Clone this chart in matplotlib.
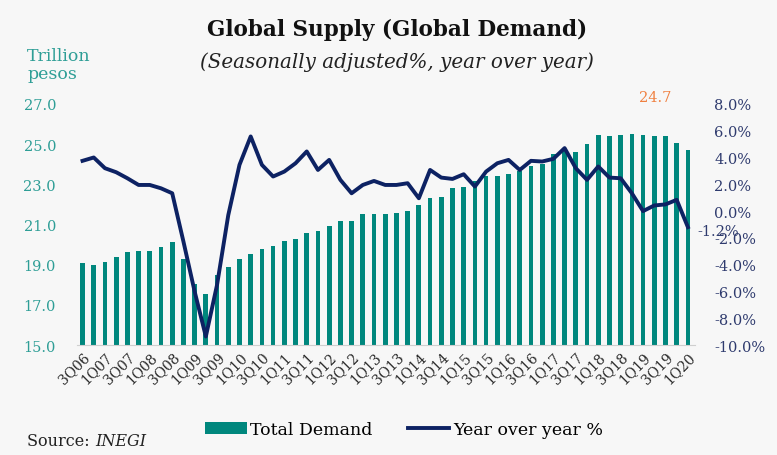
import numpy as np
import matplotlib
matplotlib.use("Agg")
import matplotlib.pyplot as plt
from matplotlib.patches import Patch
from matplotlib.lines import Line2D

# quarters 3Q06 .. 1Q20
quarters = ["3Q06", "4Q06"] + [f"{q}Q{y:02d}" for y in range(7, 20) for q in range(1, 5)] + ["1Q20"]

# total demand, trillion pesos (left axis)
total_demand = [19.06, 18.98, 19.13, 19.38, 19.61, 19.69, 19.69, 19.88, 20.11, 19.29,
                18.02, 17.54, 18.50, 18.90, 19.29, 19.54, 19.78, 19.94, 20.17, 20.26,
                20.60, 20.69, 20.94, 21.17, 21.17, 21.50, 21.50, 21.50, 21.55, 21.65,
                21.98, 22.30, 22.38, 22.80, 22.88, 23.17, 23.42, 23.42, 23.50, 23.67,
                23.92, 24.00, 24.50, 24.75, 24.59, 24.98, 25.46, 25.38, 25.45, 25.51,
                25.45, 25.38, 25.38, 25.05, 24.70]

# year over year %, right axis
yoy = [3.75, 4.00, 3.20, 2.90, 2.45, 1.95, 1.95, 1.70, 1.33, -2.27,
       -6.00, -9.36, -5.50, -0.30, 3.45, 5.57, 3.45, 2.58, 2.95, 3.57,
       4.45, 3.07, 3.82, 2.33, 1.33, 1.95, 2.25, 1.95, 1.95, 2.08,
       0.96, 3.07, 2.50, 2.40, 2.75, 1.83, 2.95, 3.57, 3.82, 3.07,
       3.75, 3.70, 3.90, 4.70, 3.20, 2.33, 3.33, 2.50, 2.45, 1.33,
       0.00, 0.42, 0.50, 0.84, -1.20]

left_ticks = [15, 17, 19, 21, 23, 25, 27]
right_ticks = [-10, -8, -6, -4, -2, 0, 2, 4, 6, 8]

bg = "#f7f7f7"
bar_col = "#00877d"
teal_txt = "#2e9e96"
line_col = "#0d2263"
navy_txt = "#2f3b6e"

plt.rcParams["font.family"] = ["DejaVu Serif"]

fig = plt.figure(figsize=(7.77, 4.56), dpi=100, facecolor=bg)
ax = fig.add_axes([0.099, 0.241, 0.795, 0.529], facecolor=bg)
ax2 = ax.twinx()

x = np.arange(len(quarters))
ax.bar(x, total_demand, width=0.42, color=bar_col, zorder=2)
ax2.plot(x, yoy, color=line_col, lw=2.8, zorder=3, solid_joinstyle="round")

ax.set_xlim(-0.5, len(quarters) - 0.4)
ax.set_ylim(15, 27)
ax2.set_ylim(-10, 8)

ax.set_yticks(left_ticks)
ax.set_yticklabels([f"{v:.1f}" for v in left_ticks], color=teal_txt, fontsize=10.5)
ax2.set_yticks(right_ticks)
ax2.set_yticklabels([f"{v:.1f}%" for v in right_ticks], color=navy_txt, fontsize=10.5)

ax.set_xticks(x[::2])
ax.set_xticklabels(quarters[::2], rotation=45, ha="right", rotation_mode="anchor",
                   fontsize=10, color="#2a2a2a")
ax.tick_params(axis="x", length=0, pad=3)
ax.tick_params(axis="y", length=0, pad=15)
ax2.tick_params(axis="y", length=0, pad=14)

for a in (ax, ax2):
    for s in a.spines.values():
        s.set_visible(False)
ax.spines["bottom"].set_visible(True)
ax.spines["bottom"].set_color("#cfcfcf")

# data labels
ax.text(x[-1] - 2.9, 27.35, f"{total_demand[-1]:.1f}", color="#f08040", fontsize=10.5,
        ha="center", va="center")
ax2.text(x[-1] + 0.8, yoy[-1] - 0.3, f"{yoy[-1]:.1f}%", color=navy_txt, fontsize=10.5,
         ha="left", va="center")

fig.text(0.511, 0.935, "Global Supply (Global Demand)", ha="center", va="center",
         fontsize=15.5, fontweight="bold", color="#111111")
fig.text(0.511, 0.863, "(Seasonally adjusted%, year over year)", ha="center", va="center",
         fontsize=14.3, style="italic", color="#222222")
fig.text(0.035, 0.857, "Trillion\npesos", ha="left", va="center", fontsize=12.5,
         color=teal_txt, linespacing=1.1)

handles = [Patch(facecolor=bar_col, label="Total Demand"),
           Line2D([0], [0], color=line_col, lw=2.8, label="Year over year %")]
fig.legend(handles=handles, loc="center", bbox_to_anchor=(0.52, 0.055), ncol=2,
           frameon=False, fontsize=12.5, handlelength=2.4, handletextpad=0.2,
           columnspacing=2.0)

fig.text(0.035, 0.031, "Source: ", ha="left", va="center", fontsize=11.5, color="#222222")
fig.text(0.122, 0.031, "INEGI", ha="left", va="center", fontsize=11.5, style="italic",
         color="#222222")

fig.savefig("out.png", dpi=100, facecolor=bg)
